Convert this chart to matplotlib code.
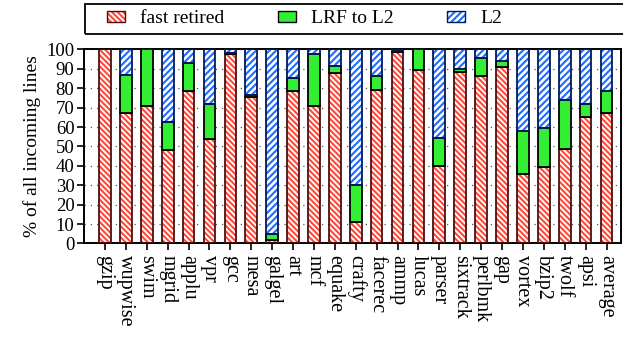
import matplotlib
matplotlib.use("Agg")
import matplotlib.pyplot as plt
from matplotlib.patches import Patch, Rectangle
from matplotlib.legend_handler import HandlerTuple
import numpy as np

plt.rcParams['font.family'] = ['Liberation Serif', 'DejaVu Serif']
plt.rcParams['hatch.linewidth'] = 1.5

benchmarks = ["gzip", "wupwise", "swim", "mgrid", "applu", "vpr", "gcc", "mesa",
              "galgel", "art", "mcf", "equake", "crafty", "facerec", "ammp", "lucas",
              "parser", "sixtrack", "perlbmk", "gap", "vortex", "bzip2", "twolf",
              "apsi", "average"]
fast_retired = [100, 67.5, 71, 48, 78.5, 54, 97.5, 75.5,
                1.5, 78.5, 71, 88, 11, 79, 98.5, 89.5,
                40, 88.5, 86.5, 91, 36, 39.5, 48.5, 65, 67]
lrf_to_l2 = [0, 19.5, 29, 14.5, 14.5, 18, 0.7, 0.8,
             3.5, 7, 26.5, 3.5, 19, 7.5, 0.5, 10.5,
             14.5, 1.2, 9, 3, 22, 20, 25.5, 7, 11.5]
l2 = [0, 13, 0, 37.5, 7, 28, 1.8, 23.7,
      95, 14.5, 2.5, 8.5, 70, 13.5, 1, 0,
      45.5, 10.3, 4.5, 6, 42, 40.5, 26, 28, 21.5]
yticks = list(range(0, 101, 10))

RED, RED_EDGE = "#ff4a3a", "#4a1010"
GREEN = "#33ee33"
BLUE, BLUE_EDGE = "#1f6bff", "#001a5c"
RED_HATCH = "\\" * 6
BLUE_HATCH = "/" * 5

fig = plt.figure(figsize=(6.23, 3.39), dpi=100)
ax = fig.add_axes([0.135, 0.282, 0.862, 0.572])

x = np.arange(len(benchmarks))
w = 0.56
fr = np.array(fast_retired)
lr = np.array(lrf_to_l2)
l2a = np.array(l2)

# fast retired: red hatch, dark outline
ax.bar(x, fr, w, color="white", edgecolor=RED, hatch=RED_HATCH, linewidth=0, zorder=2)
ax.bar(x, fr, w, fill=False, edgecolor=RED_EDGE, linewidth=1.3, zorder=3)
# LRF to L2: solid green
ax.bar(x, lr, w, bottom=fr, color=GREEN, edgecolor="black", linewidth=1.3, zorder=3)
# L2: blue hatch
ax.bar(x, l2a, w, bottom=fr + lr, color="white", edgecolor=BLUE, hatch=BLUE_HATCH, linewidth=0, zorder=2)
ax.bar(x, l2a, w, bottom=fr + lr, fill=False, edgecolor=BLUE_EDGE, linewidth=1.3, zorder=3)

ax.set_xlim(-1.0, 24.7)
ax.set_ylim(0, 100)
ax.set_yticks(yticks)
ax.set_xticks(x)
ax.set_xticklabels(benchmarks, rotation=270, ha="center", va="top", fontsize=14.5)
ax.tick_params(axis="y", labelsize=13.5, direction="out", length=5, width=1.2, pad=2)
ax.tick_params(axis="x", direction="out", length=5, width=1.2, pad=3)
ax.set_ylabel("% of all incoming lines", fontsize=14, labelpad=4)
for s in ax.spines.values():
    s.set_linewidth(1.4)
ax.yaxis.grid(True, linestyle=(0, (1, 4)), color="#555555", linewidth=0.9, zorder=0)
ax.set_axisbelow(True)

# legend row across the top
handles = [
    (Patch(facecolor="white", edgecolor=RED, hatch=RED_HATCH, linewidth=0),
     Patch(fill=False, edgecolor=RED_EDGE, linewidth=1.0)),
    Patch(facecolor=GREEN, edgecolor="black", linewidth=1.0),
    (Patch(facecolor="white", edgecolor=BLUE, hatch=BLUE_HATCH, linewidth=0),
     Patch(fill=False, edgecolor=BLUE_EDGE, linewidth=1.0)),
]
labels = ["fast retired", "LRF to L2", "L2"]
fig.legend(handles, labels, ncol=3, loc="center left",
           bbox_to_anchor=(0.156, 0.944), frameon=False, fontsize=14,
           borderpad=0, handlelength=0.95, handleheight=0.5, handletextpad=0.75,
           columnspacing=2.75,
           handler_map={tuple: HandlerTuple(ndivide=1, pad=0)})
fig.add_artist(Rectangle((0.1364, 0.8997), 0.9, 0.0885, transform=fig.transFigure,
                         fill=False, edgecolor="black", linewidth=1.3))

fig.savefig("out.png", dpi=100)
